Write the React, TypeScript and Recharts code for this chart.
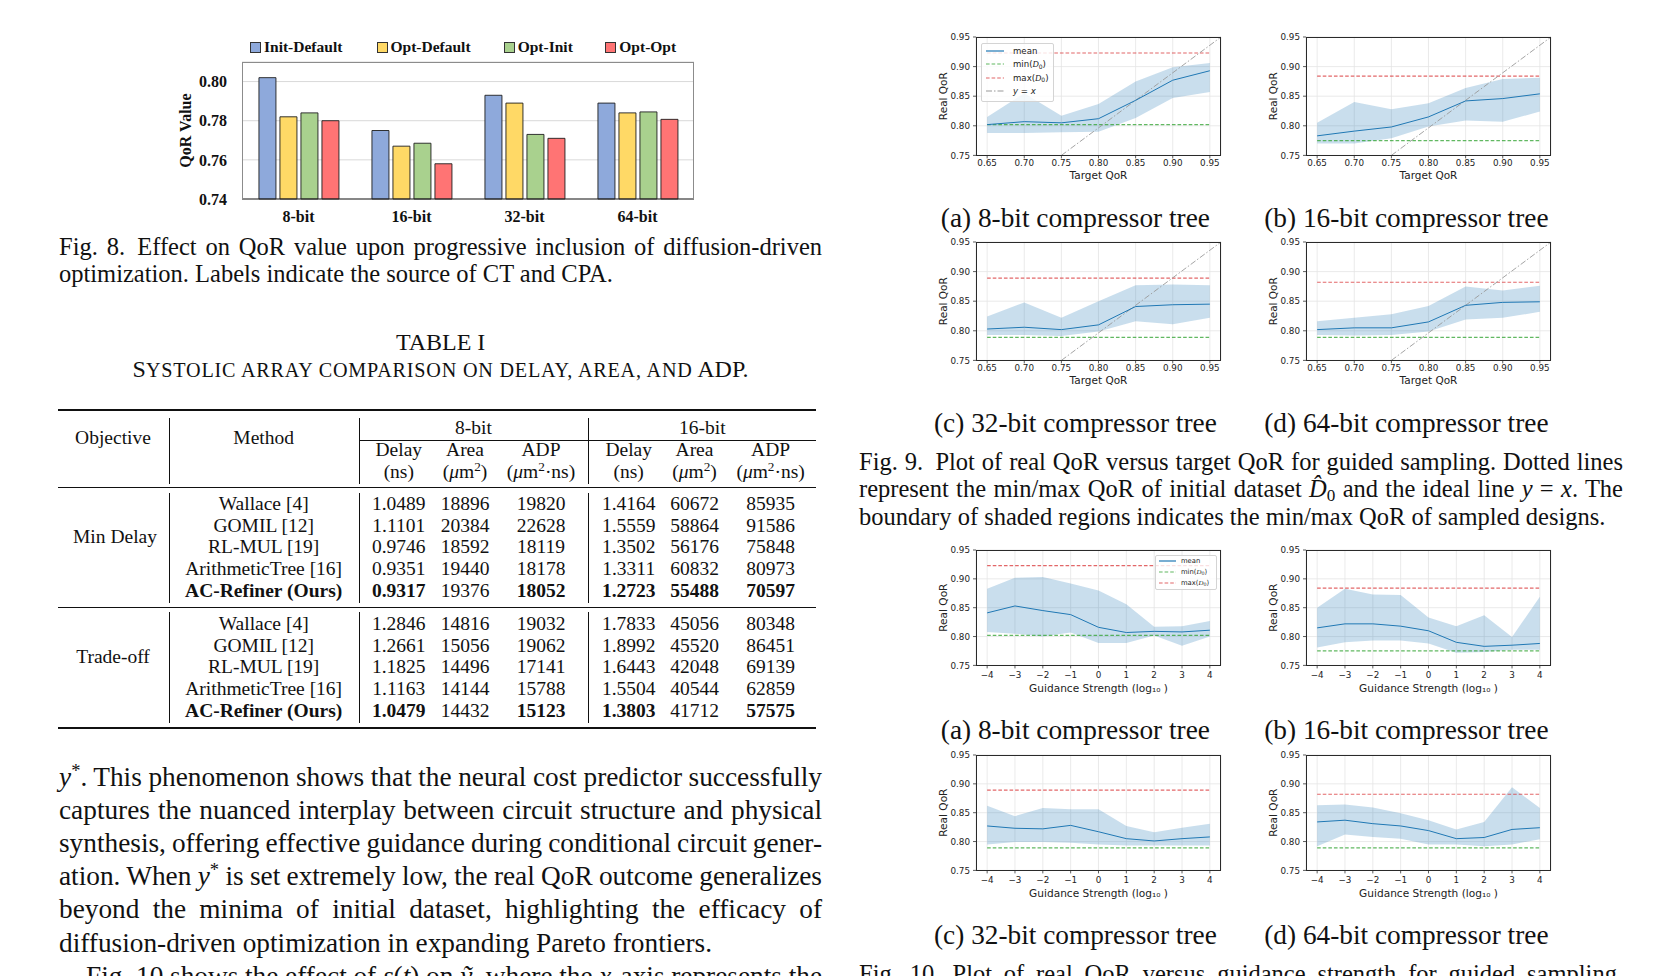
import React from 'react';
import {
  BarChart,
  Bar,
  ComposedChart,
  Area,
  Line,
  XAxis,
  YAxis,
  CartesianGrid,
  ReferenceLine,
} from 'recharts';

const SERIF = '"Liberation Serif", "Times New Roman", Times, serif';
const SANS = '"DejaVu Sans", Verdana, sans-serif';
const INK = '#111';

// ---------- Fig. 8 data ----------
const bitWidths = ['8-bit', '16-bit', '32-bit', '64-bit'];
const initDefault = [0.802, 0.775, 0.793, 0.789];
const optDefault = [0.782, 0.767, 0.789, 0.784];
const optInit = [0.784, 0.7685, 0.773, 0.7845];
const optOpt = [0.78, 0.758, 0.771, 0.7807];
const qorValueTicks = [0.74, 0.76, 0.78, 0.8];

const fig8Series = [
  { key: 'initDefault', name: 'Init-Default', color: '#8EA9DB' },
  { key: 'optDefault', name: 'Opt-Default', color: '#FFD966' },
  { key: 'optInit', name: 'Opt-Init', color: '#A9D18E' },
  { key: 'optOpt', name: 'Opt-Opt', color: '#FF7474' },
];

const fig8Data = bitWidths.map((name, i) => ({
  name,
  initDefault: initDefault[i],
  optDefault: optDefault[i],
  optInit: optInit[i],
  optOpt: optOpt[i],
}));

// ---------- Fig. 9 data (real QoR vs target QoR) ----------
const targetQoR = [0.65, 0.7, 0.75, 0.8, 0.85, 0.9, 0.95];
const f9Mean8 = [0.802, 0.807, 0.805, 0.812, 0.843, 0.877, 0.893];
const f9Lo8 = [0.788, 0.788, 0.789, 0.79, 0.813, 0.847, 0.857];
const f9Hi8 = [0.815, 0.855, 0.817, 0.837, 0.875, 0.899, 0.906];
const f9Mean16 = [0.783, 0.791, 0.798, 0.815, 0.842, 0.846, 0.854];
const f9Lo16 = [0.77, 0.77, 0.779, 0.799, 0.809, 0.807, 0.824];
const f9Hi16 = [0.805, 0.84, 0.828, 0.838, 0.864, 0.879, 0.881];
const f9Mean32 = [0.803, 0.806, 0.802, 0.81, 0.841, 0.844, 0.845];
const f9Lo32 = [0.793, 0.793, 0.791, 0.799, 0.816, 0.811, 0.822];
const f9Hi32 = [0.824, 0.848, 0.822, 0.85, 0.877, 0.878, 0.877];
const f9Mean64 = [0.802, 0.805, 0.805, 0.815, 0.843, 0.848, 0.849];
const f9Lo64 = [0.793, 0.792, 0.793, 0.799, 0.819, 0.822, 0.832];
const f9Hi64 = [0.816, 0.822, 0.828, 0.842, 0.875, 0.868, 0.876];
const identityFrom = { x: 0.75, y: 0.75 };
const identityTo = { x: 0.965, y: 0.95 };

// ---------- Fig. 10 data (real QoR vs guidance strength) ----------
const guidance = [-4, -3, -2, -1, 0, 1, 2, 3, 4];
const f10Mean8 = [0.841, 0.853, 0.845, 0.838, 0.816, 0.807, 0.809, 0.808, 0.811];
const f10Lo8 = [0.808, 0.805, 0.8, 0.807, 0.789, 0.789, 0.802, 0.784, 0.8];
const f10Hi8 = [0.883, 0.902, 0.903, 0.892, 0.88, 0.856, 0.817, 0.818, 0.827];
const f10Mean16 = [0.815, 0.822, 0.822, 0.818, 0.81, 0.79, 0.783, 0.785, 0.788];
const f10Lo16 = [0.781, 0.79, 0.793, 0.793, 0.788, 0.772, 0.773, 0.777, 0.777];
const f10Hi16 = [0.85, 0.883, 0.873, 0.872, 0.833, 0.818, 0.837, 0.799, 0.869];
const f10Mean32 = [0.827, 0.823, 0.822, 0.828, 0.817, 0.805, 0.801, 0.805, 0.808];
const f10Lo32 = [0.795, 0.799, 0.799, 0.798, 0.795, 0.793, 0.793, 0.793, 0.793];
const f10Hi32 = [0.862, 0.844, 0.858, 0.856, 0.856, 0.827, 0.816, 0.824, 0.831];
const f10Mean64 = [0.834, 0.837, 0.831, 0.827, 0.819, 0.805, 0.807, 0.821, 0.824];
const f10Lo64 = [0.792, 0.812, 0.808, 0.805, 0.795, 0.795, 0.792, 0.795, 0.804];
const f10Hi64 = [0.863, 0.864, 0.859, 0.849, 0.837, 0.821, 0.834, 0.894, 0.858];

// min / max QoR of the initial dataset, per bit width
const d0Min = [0.802, 0.775, 0.789, 0.789];
const d0Max = [0.923, 0.884, 0.889, 0.882];
const realQoRTicks = [0.75, 0.8, 0.85, 0.9, 0.95];

const subLabels = [
  '(a) 8-bit compressor tree',
  '(b) 16-bit compressor tree',
  '(c) 32-bit compressor tree',
  '(d) 64-bit compressor tree',
];

// ---------- Table I data ----------
const methods = ['Wallace [4]', 'GOMIL [12]', 'RL-MUL [19]', 'ArithmeticTree [16]', 'AC-Refiner (Ours)'];
const minDelayRows = [
  ['1.0489', '18896', '19820', '1.4164', '60672', '85935'],
  ['1.1101', '20384', '22628', '1.5559', '58864', '91586'],
  ['0.9746', '18592', '18119', '1.3502', '56176', '75848'],
  ['0.9351', '19440', '18178', '1.3311', '60832', '80973'],
  ['0.9317', '19376', '18052', '1.2723', '55488', '70597'],
];
const minDelayBold = [true, false, true, true, true, true];
const tradeOffRows = [
  ['1.2846', '14816', '19032', '1.7833', '45056', '80348'],
  ['1.2661', '15056', '19062', '1.8992', '45520', '86451'],
  ['1.1825', '14496', '17141', '1.6443', '42048', '69139'],
  ['1.1163', '14144', '15788', '1.5504', '40544', '62859'],
  ['1.0479', '14432', '15123', '1.3803', '41712', '57575'],
];
const tradeOffBold = [true, false, true, true, false, true];

// ---------- small helpers ----------
const Sup = ({ children }: { children: React.ReactNode }) => (
  <span style={{ fontSize: '0.68em', position: 'relative', top: '-0.5em' }}>{children}</span>
);
const Sub = ({ children }: { children: React.ReactNode }) => (
  <span style={{ fontSize: '0.7em', position: 'relative', top: '0.25em' }}>{children}</span>
);
const SmallCaps = ({ children }: { children: React.ReactNode }) => (
  <span style={{ fontSize: '0.84em', letterSpacing: '0.8px' }}>{children}</span>
);

type LineProps = {
  x: number;
  y: number;
  w: number;
  size: number;
  children: React.ReactNode;
  mode?: 'justify' | 'left' | 'center';
  bold?: boolean;
  ws?: number;
  extra?: React.CSSProperties;
};

function TextLine({ x, y, w, size, children, mode = 'justify', bold = false, ws = 0, extra }: LineProps) {
  return (
    <div
      style={{
        position: 'absolute',
        left: mode === 'center' ? x - w / 2 : x,
        top: y - size * 0.61,
        width: w,
        fontFamily: SERIF,
        fontSize: size,
        lineHeight: `${size * 1.2}px`,
        color: INK,
        fontWeight: bold ? 700 : 400,
        textAlign: mode,
        textAlignLast: mode,
        wordSpacing: ws,
        whiteSpace: mode === 'justify' ? 'normal' : 'nowrap',
        ...extra,
      }}
    >
      {children}
    </div>
  );
}

const Rule = ({ x, y, w, h }: { x: number; y: number; w: number; h: number }) => (
  <div style={{ position: 'absolute', left: x, top: y, width: w, height: h, background: INK }} />
);

// ---------- Fig. 8 ----------
function Fig8() {
  const legendX = [250, 376.5, 503.7, 605.3];
  const tickStyle = { fontFamily: SERIF, fontWeight: 700, fontSize: 16, fill: INK };
  return (
    <>
      <div style={{ position: 'absolute', left: 170, top: 30 }}>
        <BarChart
          width={540}
          height={200}
          data={fig8Data}
          margin={{ top: 32, right: 16, left: 0, bottom: 0 }}
          barCategoryGap="15%"
          barGap={4}
        >
          <CartesianGrid vertical={false} stroke="#d9d9d9" />
          <XAxis
            dataKey="name"
            height={31}
            tickLine={false}
            tickSize={0}
            tickMargin={12}
            axisLine={{ stroke: '#222', strokeWidth: 1.2 }}
            tick={tickStyle}
          />
          <YAxis
            domain={[0.74, 0.81]}
            ticks={qorValueTicks}
            width={72}
            axisLine={false}
            tickLine={false}
            tickSize={0}
            tickMargin={15}
            tickFormatter={(v: number) => v.toFixed(2)}
            tick={tickStyle}
            label={{
              value: 'QoR Value',
              angle: -90,
              position: 'insideLeft',
              offset: 15,
              style: { textAnchor: 'middle', ...tickStyle },
            }}
          />
          {fig8Series.map((s) => (
            <Bar
              key={s.key}
              dataKey={s.key}
              name={s.name}
              fill={s.color}
              stroke="#1e1e1e"
              strokeWidth={0.9}
              isAnimationActive={false}
            />
          ))}
        </BarChart>
      </div>
      <div
        style={{
          position: 'absolute',
          left: 242,
          top: 62,
          width: 452,
          height: 137,
          boxSizing: 'border-box',
          border: '1px solid #8c8c8c',
          borderBottom: 'none',
          pointerEvents: 'none',
        }}
      />
      {fig8Series.map((s, i) => (
        <div
          key={s.key}
          style={{
            position: 'absolute',
            left: legendX[i],
            top: 37,
            height: 20,
            display: 'flex',
            alignItems: 'center',
            fontFamily: SERIF,
            fontWeight: 700,
            fontSize: 15.5,
            color: INK,
            whiteSpace: 'nowrap',
          }}
        >
          <span
            style={{
              display: 'inline-block',
              width: 9,
              height: 9,
              background: s.color,
              border: '1px solid #333',
              marginRight: 3,
            }}
          />
          {s.name}
        </div>
      ))}
    </>
  );
}

// ---------- QoR panels (Fig. 9 / Fig. 10) ----------
const PLOT_W = 245;
const Y_AXIS_W = 56;
const X_AXIS_H = 40;
const RIGHT_PAD = 14;
const TOP_PAD = 6;

type PanelProps = {
  left: number;
  top: number;
  plotH: number;
  xs: number[];
  mean: number[];
  lo: number[];
  hi: number[];
  dMin: number;
  dMax: number;
  mode: 'target' | 'guidance';
};

const fmtGuidance = (v: number) => (v < 0 ? `\u2212${Math.abs(v)}` : String(v));

function QoRPanel(p: PanelProps) {
  const data = p.xs.map((x, i) => ({ x, mean: p.mean[i], band: [p.lo[i], p.hi[i]] }));
  const target = p.mode === 'target';
  const xFirst = p.xs[0];
  const xLast = p.xs[p.xs.length - 1];
  const tickStyle = { fontFamily: SANS, fontSize: 8.8, fill: '#222' };
  const labelStyle = { fontFamily: SANS, fontSize: target ? 10.5 : 10.6, fill: '#222' };
  return (
    <>
      <div style={{ position: 'absolute', left: p.left - Y_AXIS_W, top: p.top - TOP_PAD }}>
        <ComposedChart
          width={PLOT_W + Y_AXIS_W + RIGHT_PAD}
          height={p.plotH + TOP_PAD + X_AXIS_H}
          data={data}
          margin={{ top: TOP_PAD, right: RIGHT_PAD, left: 0, bottom: 0 }}
        >
          <CartesianGrid stroke="#e4e4e4" strokeWidth={0.8} />
          <XAxis
            dataKey="x"
            type="number"
            domain={target ? [0.635, 0.965] : [-4.4, 4.4]}
            ticks={target ? targetQoR : guidance}
            tickFormatter={(v: number) => (target ? v.toFixed(2) : fmtGuidance(v))}
            height={X_AXIS_H}
            axisLine={false}
            tickSize={3}
            tickMargin={target ? 1.4 : 3.8}
            tickLine={{ stroke: '#333', strokeWidth: 0.8 }}
            tick={tickStyle}
            interval={0}
            label={{
              value: target ? 'Target QoR' : 'Guidance Strength (log\u2081\u2080 )',
              position: 'insideTop',
              offset: target ? 16.2 : 19.2,
              style: labelStyle,
            }}
          />
          <YAxis
            type="number"
            domain={[0.75, 0.95]}
            ticks={realQoRTicks}
            tickFormatter={(v: number) => v.toFixed(2)}
            width={Y_AXIS_W}
            axisLine={false}
            tickSize={3}
            tickMargin={3}
            tickLine={{ stroke: '#333', strokeWidth: 0.8 }}
            tick={tickStyle}
            interval={0}
            label={{
              value: 'Real QoR',
              angle: -90,
              position: 'insideLeft',
              offset: 23.3,
              style: { textAnchor: 'middle', ...labelStyle },
            }}
          />
          <Area
            dataKey="band"
            type="linear"
            stroke="none"
            fill="#1f77b4"
            fillOpacity={0.24}
            isAnimationActive={false}
          />
          <ReferenceLine
            segment={[
              { x: xFirst, y: p.dMin },
              { x: xLast, y: p.dMin },
            ]}
            stroke="#2ca02c"
            strokeOpacity={0.75}
            strokeWidth={1.2}
            strokeDasharray="3.6 2"
          />
          <ReferenceLine
            segment={[
              { x: xFirst, y: p.dMax },
              { x: xLast, y: p.dMax },
            ]}
            stroke="#d62728"
            strokeOpacity={0.7}
            strokeWidth={1.2}
            strokeDasharray="3.6 2"
          />
          {target && (
            <ReferenceLine
              segment={[identityFrom, identityTo]}
              ifOverflow="visible"
              stroke="#9a9a9a"
              strokeWidth={0.9}
              strokeDasharray="6 2 1.5 2"
            />
          )}
          <Line
            dataKey="mean"
            type="linear"
            stroke="#1f77b4"
            strokeWidth={1}
            dot={false}
            isAnimationActive={false}
          />
        </ComposedChart>
      </div>
      <div
        style={{
          position: 'absolute',
          left: p.left,
          top: p.top,
          width: PLOT_W,
          height: p.plotH,
          boxSizing: 'border-box',
          border: '0.9px solid #2a2a2a',
          pointerEvents: 'none',
        }}
      />
    </>
  );
}

type LegendItem = { label: React.ReactNode; color: string; dash?: string; opacity?: number };

function PanelLegend(props: {
  x: number;
  y: number;
  w: number;
  h: number;
  rowH: number;
  font: number;
  padL: number;
  sampleW: number;
  gap: number;
  items: LegendItem[];
}) {
  return (
    <div
      style={{
        position: 'absolute',
        left: props.x,
        top: props.y,
        width: props.w,
        height: props.h,
        boxSizing: 'border-box',
        background: 'rgba(255,255,255,0.8)',
        border: '0.8px solid #d4d4d4',
        borderRadius: 2,
        paddingLeft: props.padL,
        fontFamily: SANS,
        fontSize: props.font,
        color: '#222',
      }}
    >
      {props.items.map((it, i) => (
        <div key={i} style={{ display: 'flex', alignItems: 'center', height: props.rowH, whiteSpace: 'nowrap' }}>
          <svg width={props.sampleW} height={6} style={{ marginRight: props.gap, flex: 'none' }}>
            <line
              x1={0}
              y1={3}
              x2={props.sampleW}
              y2={3}
              stroke={it.color}
              strokeOpacity={it.opacity ?? 1}
              strokeWidth={1.2}
              strokeDasharray={it.dash}
            />
          </svg>
          <span>{it.label}</span>
        </div>
      ))}
    </div>
  );
}

const D0 = (
  <>
    <i style={{ fontFamily: SERIF }}>D</i>
    <Sub>0</Sub>
  </>
);

const legendFull: LegendItem[] = [
  { label: 'mean', color: '#1f77b4' },
  { label: <>min({D0})</>, color: '#2ca02c', dash: '3.6 2', opacity: 0.75 },
  { label: <>max({D0})</>, color: '#d62728', dash: '3.6 2', opacity: 0.7 },
  { label: <i>y = x</i>, color: '#9a9a9a', dash: '6 2 1.5 2' },
];

// layout (plot-area corners)
const fig9Layout = [
  { left: 976, top: 37.3 },
  { left: 1306, top: 37.3 },
  { left: 976, top: 242.3 },
  { left: 1306, top: 242.3 },
];
const fig10Layout = [
  { left: 976, top: 550.3 },
  { left: 1306, top: 550.3 },
  { left: 976, top: 755.3 },
  { left: 1306, top: 755.3 },
];
const subCaptionX = [1075.4, 1406.4, 1075.4, 1406.4];
const fig9SubY = [218.2, 218.2, 423.5, 423.5];
const fig10SubY = [730.5, 730.5, 935.8, 935.8];

const fig9Sets = [
  { mean: f9Mean8, lo: f9Lo8, hi: f9Hi8 },
  { mean: f9Mean16, lo: f9Lo16, hi: f9Hi16 },
  { mean: f9Mean32, lo: f9Lo32, hi: f9Hi32 },
  { mean: f9Mean64, lo: f9Lo64, hi: f9Hi64 },
];
const fig10Sets = [
  { mean: f10Mean8, lo: f10Lo8, hi: f10Hi8 },
  { mean: f10Mean16, lo: f10Lo16, hi: f10Hi16 },
  { mean: f10Mean32, lo: f10Lo32, hi: f10Hi32 },
  { mean: f10Mean64, lo: f10Lo64, hi: f10Hi64 },
];

// ---------- Table I ----------
const tableCols = [398.8, 465, 541, 628.7, 694.5, 770.6];
const minDelayY = [504, 525.7, 547.3, 569, 590.7];
const tradeOffY = [624, 645.7, 667.3, 689, 710.7];
const TS = 19.5;

function TableI() {
  const mu = <i>μ</i>;
  const heads: [React.ReactNode, React.ReactNode][] = [
    ['Delay', '(ns)'],
    ['Area', <>({mu}m<Sup>2</Sup>)</>],
    ['ADP', <>({mu}m<Sup>2</Sup>·ns)</>],
  ];
  const block = (rows: string[][], bold: boolean[], ys: number[]) =>
    rows.map((row, r) => {
      const last = r === rows.length - 1;
      return (
        <React.Fragment key={r}>
          <TextLine x={263.7} y={ys[r]} w={220} size={TS} mode="center" bold={last}>
            {methods[r]}
          </TextLine>
          {row.map((v, c) => (
            <TextLine key={c} x={tableCols[c]} y={ys[r]} w={100} size={TS} mode="center" bold={last && bold[c]}>
              {v}
            </TextLine>
          ))}
        </React.Fragment>
      );
    });
  return (
    <>
      <TextLine x={440.6} y={342.2} w={300} size={24} mode="center">
        TABLE I
      </TextLine>
      <TextLine x={440.6} y={370} w={800} size={24} mode="center">
        S
        <SmallCaps>YSTOLIC ARRAY COMPARISON ON DELAY, AREA, AND</SmallCaps> ADP.
      </TextLine>

      <Rule x={57.5} y={409} w={758.5} h={2.2} />
      <Rule x={359.5} y={439.6} w={456.5} h={1.1} />
      <Rule x={57.5} y={487} w={758.5} h={1.3} />
      <Rule x={57.5} y={606.7} w={758.5} h={1.3} />
      <Rule x={57.5} y={726.6} w={758.5} h={2.2} />
      {[169, 359.5, 588].map((vx) =>
        [
          [418, 484],
          [493, 603],
          [612, 723],
        ].map(([a, b], k) => <Rule key={`${vx}-${k}`} x={vx - 0.5} y={a} w={1} h={b - a} />)
      )}

      <TextLine x={113} y={438.3} w={150} size={TS} mode="center">
        Objective
      </TextLine>
      <TextLine x={263.7} y={438.3} w={150} size={TS} mode="center">
        Method
      </TextLine>
      <TextLine x={473.5} y={428.3} w={100} size={TS} mode="center">
        8-bit
      </TextLine>
      <TextLine x={702.4} y={428.3} w={100} size={TS} mode="center">
        16-bit
      </TextLine>
      {tableCols.map((cx, c) => (
        <React.Fragment key={c}>
          <TextLine x={cx} y={450} w={110} size={TS} mode="center">
            {heads[c % 3][0]}
          </TextLine>
          <TextLine x={cx} y={471.7} w={110} size={TS} mode="center">
            {heads[c % 3][1]}
          </TextLine>
        </React.Fragment>
      ))}

      <TextLine x={115} y={537.3} w={150} size={TS} mode="center">
        Min Delay
      </TextLine>
      <TextLine x={113} y={657.3} w={150} size={TS} mode="center">
        Trade-off
      </TextLine>
      {block(minDelayRows, minDelayBold, minDelayY)}
      {block(tradeOffRows, tradeOffBold, tradeOffY)}
    </>
  );
}

// ---------- page ----------
const BODY = 27.3;
const CAP = 24.5;
const LEFT_X = 59;
const LEFT_W = 763;
const RIGHT_X = 859;
const RIGHT_W = 764;
const bodyY = [777.5, 810.7, 843.8, 877.0, 910.1, 943.3, 976.4];

export default function App() {
  const ystar = (
    <>
      <i>y</i>
      <Sup>*</Sup>
    </>
  );
  return (
    <div
      style={{
        position: 'absolute',
        left: 0,
        top: 0,
        width: 1677,
        height: 976,
        overflow: 'hidden',
        background: '#fff',
      }}
    >
      <Fig8 />
      <TextLine x={LEFT_X} y={247} w={LEFT_W} size={CAP} ws={-2}>
        Fig. 8.{'\u2002'}Effect on QoR value upon progressive inclusion of diffusion-driven
      </TextLine>
      <TextLine x={LEFT_X} y={273.8} w={LEFT_W} size={CAP} mode="left">
        optimization. Labels indicate the source of CT and CPA.
      </TextLine>

      <TableI />

      <TextLine x={LEFT_X} y={bodyY[0]} w={LEFT_W} size={BODY} ws={-3}>
        {ystar}. This phenomenon shows that the neural cost predictor successfully
      </TextLine>
      <TextLine x={LEFT_X} y={bodyY[1]} w={LEFT_W} size={BODY} ws={-3}>
        captures the nuanced interplay between circuit structure and physical
      </TextLine>
      <TextLine x={LEFT_X} y={bodyY[2]} w={LEFT_W} size={BODY} ws={-3}>
        synthesis, offering effective guidance during conditional circuit gener-
      </TextLine>
      <TextLine x={LEFT_X} y={bodyY[3]} w={LEFT_W} size={BODY} ws={-3}>
        ation. When {ystar} is set extremely low, the real QoR outcome generalizes
      </TextLine>
      <TextLine x={LEFT_X} y={bodyY[4]} w={LEFT_W} size={BODY} ws={-3}>
        beyond the minima of initial dataset, highlighting the efficacy of
      </TextLine>
      <TextLine x={LEFT_X} y={bodyY[5]} w={LEFT_W} size={BODY} mode="left">
        diffusion-driven optimization in expanding Pareto frontiers.
      </TextLine>
      <TextLine x={LEFT_X + 27} y={bodyY[6]} w={LEFT_W - 27} size={BODY} ws={-3}>
        Fig. 10 shows the effect of <i>s</i>(<i>t</i>) on <i>ỹ</i>, where the <i>x</i>-axis represents the
      </TextLine>

      {fig9Sets.map((s, i) => (
        <QoRPanel
          key={`f9-${i}`}
          left={fig9Layout[i].left}
          top={fig9Layout[i].top}
          plotH={118.4}
          xs={targetQoR}
          mean={s.mean}
          lo={s.lo}
          hi={s.hi}
          dMin={d0Min[i]}
          dMax={d0Max[i]}
          mode="target"
        />
      ))}
      <PanelLegend
        x={981}
        y={43.3}
        w={72.5}
        h={58.4}
        rowH={13.4}
        font={8.6}
        padL={4}
        sampleW={18}
        gap={9}
        items={legendFull}
      />
      {fig9Sets.map((_, i) => (
        <TextLine key={`s9-${i}`} x={subCaptionX[i]} y={fig9SubY[i]} w={320} size={BODY} mode="center">
          {subLabels[i]}
        </TextLine>
      ))}

      <TextLine x={RIGHT_X} y={462} w={RIGHT_W} size={CAP} ws={-3}>
        Fig. 9.{'\u2002'}Plot of real QoR versus target QoR for guided sampling. Dotted lines
      </TextLine>
      <TextLine x={RIGHT_X} y={488.8} w={RIGHT_W} size={CAP} ws={-3}>
        represent the min/max QoR of initial dataset <i>D{'\u0302'}</i>
        <Sub>0</Sub> and the ideal line <i>y</i> = <i>x</i>. The
      </TextLine>
      <TextLine x={RIGHT_X} y={516.6} w={RIGHT_W} size={CAP} mode="left">
        boundary of shaded regions indicates the min/max QoR of sampled designs.
      </TextLine>

      {fig10Sets.map((s, i) => (
        <QoRPanel
          key={`f10-${i}`}
          left={fig10Layout[i].left}
          top={fig10Layout[i].top}
          plotH={115.4}
          xs={guidance}
          mean={s.mean}
          lo={s.lo}
          hi={s.hi}
          dMin={d0Min[i]}
          dMax={d0Max[i]}
          mode="guidance"
        />
      ))}
      <PanelLegend
        x={1155}
        y={554.7}
        w={62}
        h={35}
        rowH={11}
        font={6.8}
        padL={3}
        sampleW={17}
        gap={5}
        items={legendFull.slice(0, 3)}
      />
      {fig10Sets.map((_, i) => (
        <TextLine key={`s10-${i}`} x={subCaptionX[i]} y={fig10SubY[i]} w={320} size={BODY} mode="center">
          {subLabels[i]}
        </TextLine>
      ))}

      <TextLine x={RIGHT_X} y={974} w={RIGHT_W} size={CAP} ws={-3}>
        Fig. 10.{'\u2002'}Plot of real QoR versus guidance strength for guided sampling.
      </TextLine>
    </div>
  );
}
